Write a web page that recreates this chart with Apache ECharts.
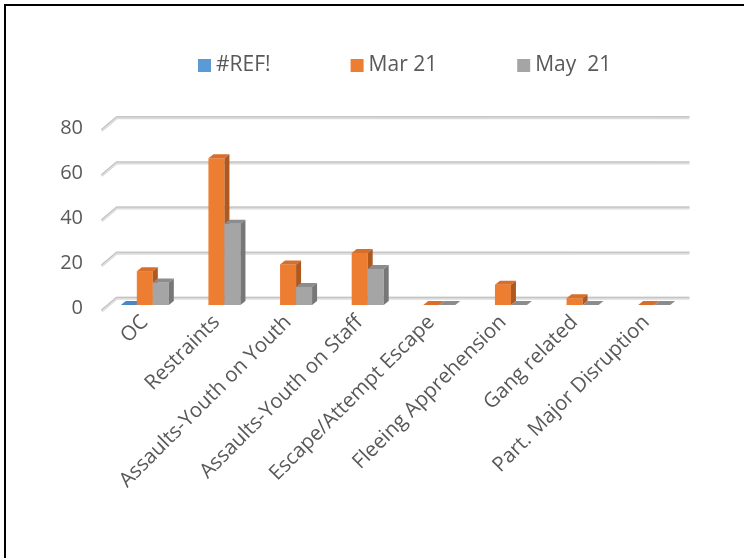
<!DOCTYPE html>
<html>
<head>
<meta charset="utf-8">
<script src="https://cdn.jsdelivr.net/npm/echarts@6/dist/echarts.min.js"></script>
<style>
  html, body { margin: 0; padding: 0; background: #fff; }
  #chart { width: 744px; height: 558px; }
</style>
</head>
<body>
<div id="chart"></div>
<script>
// Incident categories and monthly counts
const categories = [
  'OC',
  'Restraints',
  'Assaults-Youth on Youth',
  'Assaults-Youth on Staff',
  'Escape/Attempt Escape',
  'Fleeing Apprehension',
  'Gang related',
  'Part. Major Disruption'
];
const refValues = [0, null, null, null, null, null, null, null];
const mar21 = [15, 65, 18, 23, 0, 9, 3, 0];
const may21 = [10, 36, 8, 16, 0, 0, 0, 0];
const yTicks = [0, 20, 40, 60, 80];

const FONT = 'Open Sans';
const TEXT = '#595959';
const DEPTH_X = 5, DEPTH_Y = 4;   // extrusion of each box
const BAR_RATIO = 0.2235;         // bar width as a share of the category band

// Box-shaped bar: front face, top face and right side face
function boxBars(slot, front, topC, sideC) {
  return function (params, api) {
    const v = api.value(1);
    if (v == null || isNaN(v)) return;
    const ci = api.value(0);
    const base = api.coord([ci, 0]);
    const top = api.coord([ci, v]);
    const band = api.size([1, 0])[0];
    const bw = band * BAR_RATIO;
    const x0 = base[0] + (slot - 1.5) * bw;
    const x1 = x0 + bw;
    const yb = base[1], yt = top[1];
    return {
      type: 'group',
      children: [
        { type: 'rect', shape: { x: x0, y: yt, width: bw, height: yb - yt },
          style: { fill: front } },
        { type: 'polygon',
          shape: { points: [[x0, yt], [x1, yt], [x1 + DEPTH_X, yt - DEPTH_Y], [x0 + DEPTH_X, yt - DEPTH_Y]] },
          style: { fill: topC } },
        { type: 'polygon',
          shape: { points: [[x1, yt], [x1 + DEPTH_X, yt - DEPTH_Y], [x1 + DEPTH_X, yb - DEPTH_Y], [x1, yb]] },
          style: { fill: sideC } }
      ]
    };
  };
}

// Back-wall gridlines with the slanted side-wall segment and the tick label
function wallGrid(params, api) {
  const v = api.value(1);
  const p = api.coord([0, v]);
  const band = api.size([1, 0])[0];
  const left = p[0] - band / 2;
  const right = left + band * categories.length;
  const fx = left - 7.5, fy = p[1] + 6;
  const bx = left + 7.5, by = p[1] - 6.7;
  const pts = [[fx, fy], [bx, by], [right + 7.5, by]];
  return {
    type: 'group',
    children: [
      { type: 'polyline', shape: { points: pts },
        style: { stroke: '#dcdcdc', lineWidth: 3, fill: null } },
      { type: 'polyline', shape: { points: pts.map(q => [q[0], q[1] - 1]) },
        style: { stroke: '#bdbdbd', lineWidth: 1, fill: null } },
      { type: 'text',
        style: { text: String(v), x: 83, y: fy - 2.5, align: 'right', verticalAlign: 'middle',
                 font: '20px "' + FONT + '"', fill: TEXT } }
    ]
  };
}

const toData = arr => arr.map((v, i) => [i, v]).filter(d => d[1] != null);

const chart = echarts.init(document.getElementById('chart'), null, { renderer: 'canvas' });
chart.setOption({
  backgroundColor: '#ffffff',
  animation: false,
  textStyle: { fontFamily: FONT },
  legend: {
    data: ['#REF!', 'Mar 21', 'May  21'],
    left: 193,
    top: 50,
    itemWidth: 13,
    itemHeight: 13,
    itemGap: 80,
    icon: 'rect',
    textStyle: { fontSize: 21, color: TEXT, fontFamily: FONT }
  },
  grid: { left: 109, width: 573, top: 124.5, height: 180.5 },
  xAxis: {
    type: 'category',
    data: categories,
    axisLine: { show: false },
    axisTick: { show: false },
    axisLabel: { interval: 0, rotate: 45, margin: 14, fontSize: 20.5, color: TEXT, fontFamily: FONT }
  },
  yAxis: {
    type: 'value',
    min: 0, max: 80, interval: 20,
    axisLabel: { show: false },
    axisLine: { show: false },
    axisTick: { show: false },
    splitLine: { show: false }
  },
  graphic: [{
    type: 'polyline',
    shape: { points: [[5, 558], [5, 5], [744, 5]] },
    style: { stroke: '#000', lineWidth: 2, fill: null },
    silent: true
  }],
  series: [
    { type: 'custom', name: 'wall', renderItem: wallGrid, data: yTicks.map(v => [0, v]), silent: true },
    { type: 'custom', name: '#REF!', itemStyle: { color: '#5b9bd5' },
      renderItem: boxBars(0, '#5b9bd5', '#4a86c2', '#3f72a4'), data: toData(refValues) },
    { type: 'custom', name: 'Mar 21', itemStyle: { color: '#ed7d31' },
      renderItem: boxBars(1, '#ed7d31', '#d86e29', '#b0591f'), data: toData(mar21) },
    { type: 'custom', name: 'May  21', itemStyle: { color: '#a5a5a5' },
      renderItem: boxBars(2, '#a5a5a5', '#8c8c8c', '#777777'), data: toData(may21) }
  ]
});
</script>
</body>
</html>
